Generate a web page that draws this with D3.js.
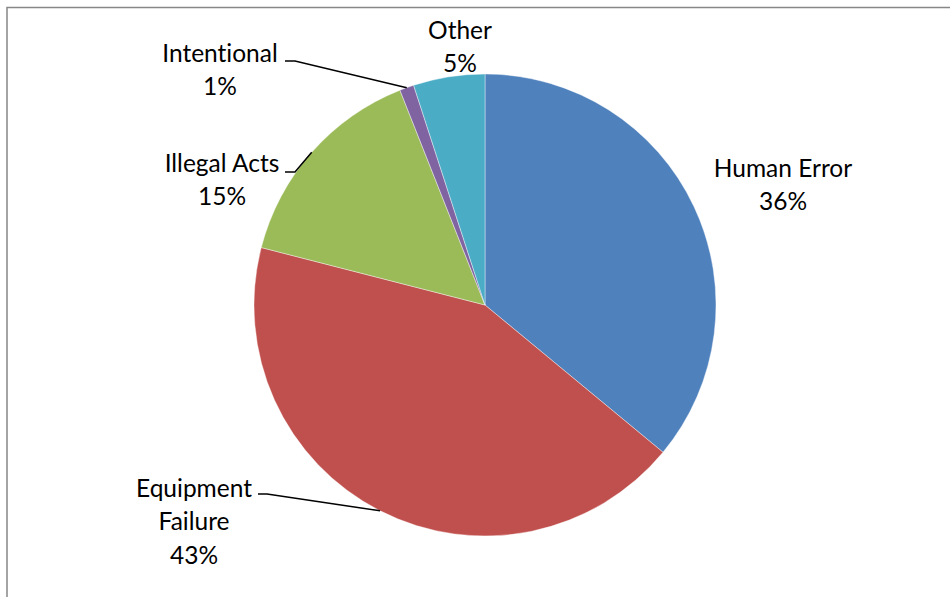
<!DOCTYPE html>
<html>
<head>
<meta charset="utf-8">
<script src="https://cdn.jsdelivr.net/npm/d3@7"></script>
<style>
  html, body { margin: 0; padding: 0; background: #fff; }
  svg { display: block; }
  text { font-variant-ligatures: none; font-feature-settings: "liga" 0; }
</style>
</head>
<body>
<svg id="chart" width="950" height="597"></svg>
<script>
// Causes of incidents, share of total (percent)
const categories = ["Human Error", "Equipment Failure", "Illegal Acts", "Intentional", "Other"];
const values = [36, 43, 15, 1, 5];
const colors = ["#4F81BD", "#C0504D", "#9BBB59", "#8064A2", "#4BACC6"];

const width = 950, height = 597;
const cx = 485, cy = 305, radius = 231;
const fontSize = 24.5, lineGap = 33.5;

// Label anchor (centre of first text line) and leader-line elbow per category
const labelLayout = {
  "Human Error":       { x: 783, y: 168, lines: ["Human Error"], leader: false },
  "Equipment Failure": { x: 194, y: 488, lines: ["Equipment", "Failure"], leader: true, elbow: [258, 267, 494] },
  "Illegal Acts":      { x: 222, y: 163, lines: ["Illegal Acts"], leader: true, elbow: [285, 295, 172] },
  "Intentional":       { x: 220, y: 53,  lines: ["Intentional"], leader: true, elbow: [285, 295, 61] },
  "Other":             { x: 460, y: 30,  lines: ["Other"], leader: false }
};

const svg = d3.select("#chart");

// Chart area frame
svg.append("rect")
  .attr("x", 7).attr("y", 7.5)
  .attr("width", 960).attr("height", 620)
  .attr("fill", "#fff")
  .attr("stroke", "#878787")
  .attr("stroke-width", 1.5);

const data = categories.map((c, i) => ({ name: c, value: values[i], color: colors[i] }));

const pie = d3.pie().value(d => d.value).sort(null);
const arcs = pie(data);

const arc = d3.arc().innerRadius(0).outerRadius(radius);
const rim = d3.arc().innerRadius(radius).outerRadius(radius);

const g = svg.append("g").attr("transform", `translate(${cx},${cy})`);

g.selectAll("path.slice")
  .data(arcs)
  .join("path")
  .attr("class", "slice")
  .attr("d", arc)
  .attr("fill", d => d.data.color)
  .attr("stroke", "#fff")
  .attr("stroke-width", 0.4);

// Leader lines from label elbow to slice rim
arcs.forEach(a => {
  const lay = labelLayout[a.data.name];
  if (!lay.leader) return;
  const [px, py] = rim.centroid(a);
  const [x0, x1, y] = lay.elbow;
  svg.append("path")
    .attr("d", d3.line()([[x0, y], [x1, y], [cx + px, cy + py]]))
    .attr("fill", "none")
    .attr("stroke", "#000")
    .attr("stroke-width", 1.5);
});

// Category labels with percentages
const fmt = d3.format(".0%");
arcs.forEach(a => {
  const lay = labelLayout[a.data.name];
  const lines = lay.lines.concat([fmt(a.data.value / 100)]);
  const t = svg.append("text")
    .attr("font-family", "Lato, 'Open Sans', sans-serif")
    .attr("font-size", fontSize)
    .attr("fill", "#000")
    .attr("text-anchor", "middle");
  lines.forEach((ln, i) => {
    t.append("tspan")
      .attr("x", lay.x)
      .attr("y", lay.y + i * lineGap)
      .attr("dy", "0.35em")
      .text(ln);
  });
});
</script>
</body>
</html>
